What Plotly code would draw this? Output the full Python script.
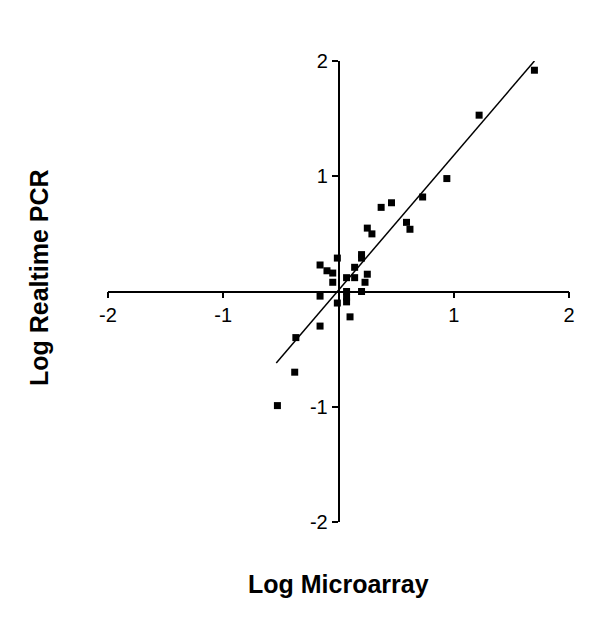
import plotly.graph_objects as go

# log ratios
microarray = [1.70, 1.22, 0.94, 0.73, 0.59, 0.62, 0.46, 0.37, 0.25, 0.29,
              0.20, 0.20, -0.01, -0.16, -0.10, -0.05, -0.05, 0.14, 0.07, 0.14,
              0.25, 0.23, 0.20, -0.16, 0.07, 0.07, 0.07, -0.01, 0.10, -0.16,
              -0.37, -0.38, -0.53]
realtime_pcr = [1.92, 1.53, 0.98, 0.82, 0.60, 0.54, 0.77, 0.73, 0.55, 0.50,
                0.32, 0.29, 0.29, 0.23, 0.18, 0.16, 0.08, 0.21, 0.12, 0.12,
                0.15, 0.08, 0.0, -0.04, 0.0, -0.05, -0.09, -0.10, -0.22, -0.30,
                -0.40, -0.70, -0.99]

# regression line end points
fit_x = [-0.54, 1.70]
fit_y = [-0.62, 2.00]

tick_vals = [-2, -1, 0, 1, 2]
tick_text = ["-2", "-1", "", "1", "2"]

fig = go.Figure()
fig.add_trace(
    go.Scatter(
        x=fit_x,
        y=fit_y,
        mode="lines",
        line={"color": "black", "width": 1.5},
        showlegend=False,
    )
)
fig.add_trace(
    go.Scatter(
        x=microarray,
        y=realtime_pcr,
        mode="markers",
        marker={"symbol": "square", "size": 7, "color": "black"},
        showlegend=False,
    )
)

axis_common = {
    "range": [-2, 2],
    "showgrid": False,
    "zeroline": False,
    "showline": True,
    "linecolor": "black",
    "linewidth": 1.5,
    "ticks": "outside",
    "ticklen": 6,
    "tickwidth": 1.5,
    "tickcolor": "black",
    "tickvals": tick_vals,
    "ticktext": tick_text,
    "tickfont": {"family": "Arial, Liberation Sans", "size": 20, "color": "black"},
    "anchor": "free",
    "position": 0.5,
}

# page body adds 8px, so margins are shifted by that
fig.update_layout(
    width=600,
    height=623,
    margin={"l": 100, "r": 39, "t": 53, "b": 109},
    plot_bgcolor="white",
    paper_bgcolor="white",
    xaxis={**axis_common, "side": "bottom"},
    yaxis={**axis_common, "side": "left"},
)

fig.add_annotation(
    text="<b>Log Microarray</b>",
    xref="paper", yref="paper", x=0.5, y=-0.135,
    xanchor="center", yanchor="middle", showarrow=False,
    font={"family": "Arial, Liberation Sans", "size": 25, "color": "black"},
)
fig.add_annotation(
    text="<b>Log Realtime PCR</b>",
    xref="paper", yref="paper", x=-0.15, y=0.531, textangle=-90,
    xanchor="center", yanchor="middle", showarrow=False,
    font={"family": "Arial, Liberation Sans", "size": 25, "color": "black"},
)

fig.write_html("out.html")
